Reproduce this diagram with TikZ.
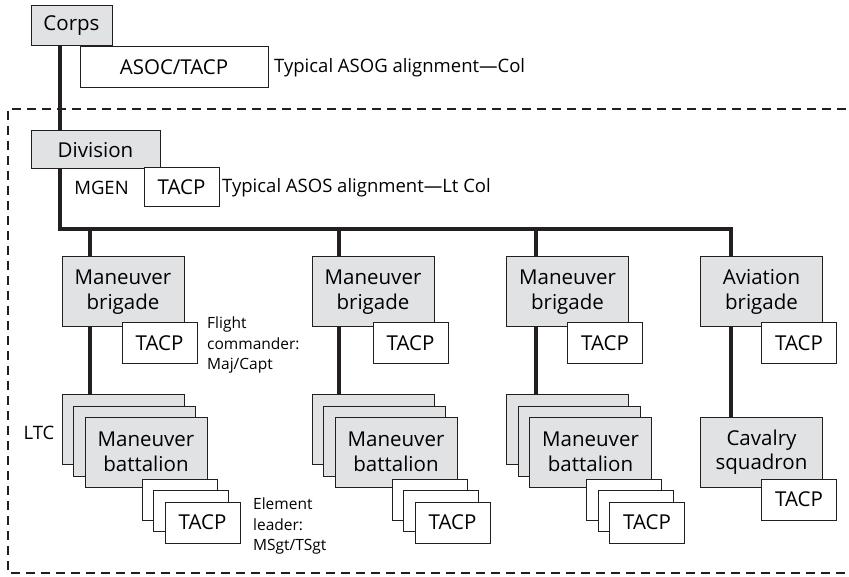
\documentclass[tikz,border=0pt]{standalone}
\usepackage{fontspec}
\setmainfont{Open Sans}
\usepackage{xcolor}
\definecolor{unitgray}{RGB}{225,226,227}
\definecolor{ink}{RGB}{35,31,32}
\tikzstyle{unit}=[rectangle, draw=ink, fill=unitgray, line width=1pt, inner sep=0pt, align=center, font=\fontsize{20.5}{24.5}\selectfont]
\tikzstyle{brigade}=[unit, minimum width=122pt, minimum height=70pt]
\tikzstyle{tacp}=[unit, fill=white, minimum width=75pt, minimum height=41pt]
\tikzset{note/.style={inner sep=0pt, align=left, font=\fontsize{18.5}{22}\selectfont}}
\tikzset{tag/.style={inner sep=0pt, align=left, font=\fontsize{15.5}{20.5}\selectfont}}
\tikzset{link/.style={draw=ink, line width=3.3pt}}
\tikzset{frame/.style={draw=ink, line width=1.3pt, dash pattern=on 9pt off 6pt}}

\begin{document}
\begin{tikzpicture}[x=1pt,y=-1pt]
  \useasboundingbox (0,0) rectangle (849,577);
  %% Corps and its ASOC
  \draw (71.5,26) node[unit,minimum width=81pt,minimum height=40pt] (Corps) {Corps};
  \draw (174,67.5) node[tacp,minimum width=188pt] (ASOC) {ASOC/TACP};
  \draw (274,68) node[note,anchor=west] (ASOG) {Typical ASOG alignment—Col};

  %% Division frame
  \draw[frame] (846,109) -- (8,109) -- (8,573) -- (846,573);

  \draw (95.5,150) node[unit,minimum width=129pt,minimum height=38pt] (Div) {Division};
  \draw (181.5,187.5) node[tacp,minimum height=39pt] (DivT) {TACP};
  \draw (101.5,188) node[note] (MGEN) {MGEN};
  \draw (222,188) node[note,anchor=west] (ASOS) {Typical ASOS alignment—Lt Col};

  %% Brigades
  \draw (123,292) node[brigade] (B1) {Maneuver\\brigade};
  \draw (373,292) node[brigade] (B2) {Maneuver\\brigade};
  \draw (567.5,292) node[brigade] (B3) {Maneuver\\brigade};
  \draw (761.5,292) node[brigade] (B4) {Aviation\\brigade};

  \draw (159.5,343.5) node[tacp] (B1T) {TACP};
  \draw (410.5,343.5) node[tacp] (B2T) {TACP};
  \draw (605,343.5) node[tacp] (B3T) {TACP};
  \draw (799,343.5) node[tacp] (B4T) {TACP};

  \draw (207,317) node[tag,anchor=north west] (Flight) {Flight\\commander:\\Maj/Capt};

  %% Battalions, three deep
  \draw (123,429) node[brigade] (Bn1a) {};
  \draw (134.5,441) node[brigade] (Bn1b) {};
  \draw (146,452) node[brigade] (Bn1c) {Maneuver\\battalion};
  \draw (179.5,499.5) node[tacp] (Bn1Ta) {};
  \draw (191,511) node[tacp] (Bn1Tb) {};
  \draw (202.5,522.5) node[tacp] (Bn1Tc) {TACP};

  \draw (373,429) node[brigade] (Bn2a) {};
  \draw (384.5,441) node[brigade] (Bn2b) {};
  \draw (396,452) node[brigade] (Bn2c) {Maneuver\\battalion};
  \draw (429.5,499.5) node[tacp] (Bn2Ta) {};
  \draw (441,511) node[tacp] (Bn2Tb) {};
  \draw (452.5,522.5) node[tacp] (Bn2Tc) {TACP};

  \draw (567.5,429) node[brigade] (Bn3a) {};
  \draw (579,441) node[brigade] (Bn3b) {};
  \draw (590.5,452) node[brigade] (Bn3c) {Maneuver\\battalion};
  \draw (624,499.5) node[tacp] (Bn3Ta) {};
  \draw (635.5,511) node[tacp] (Bn3Tb) {};
  \draw (647,522.5) node[tacp] (Bn3Tc) {TACP};

  \draw (761.5,452) node[brigade] (Cav) {Cavalry\\squadron};
  \draw (799,499.5) node[tacp] (CavT) {TACP};

  \draw (39,433) node[note] (LTC) {LTC};
  \draw (253,498) node[tag,anchor=north west] (Element) {Element\\leader:\\MSgt/TSgt};

  %% Chain of command
  \coordinate (spine) at (60,229);
  \coordinate (J1) at (90,229);
  \coordinate (J2) at (339,229);
  \coordinate (J3) at (536,229);
  \coordinate (J4) at (731,229);
  \draw[link] (Corps.south -| spine) -- (Div.north -| spine);
  \draw[link] (Div.south -| spine) -- (spine) -- (J4) -- (J4 |- B4.north);
  \draw[link] (J1) -- (J1 |- B1.north);
  \draw[link] (J2) -- (J2 |- B2.north);
  \draw[link] (J3) -- (J3 |- B3.north);
  \draw[link] (J1 |- B1.south) -- (J1 |- Bn1a.north);
  \draw[link] (J2 |- B2.south) -- (J2 |- Bn2a.north);
  \draw[link] (J3 |- B3.south) -- (J3 |- Bn3a.north);
  \draw[link] (J4 |- B4.south) -- (J4 |- Cav.north);
\end{tikzpicture}
\end{document}
